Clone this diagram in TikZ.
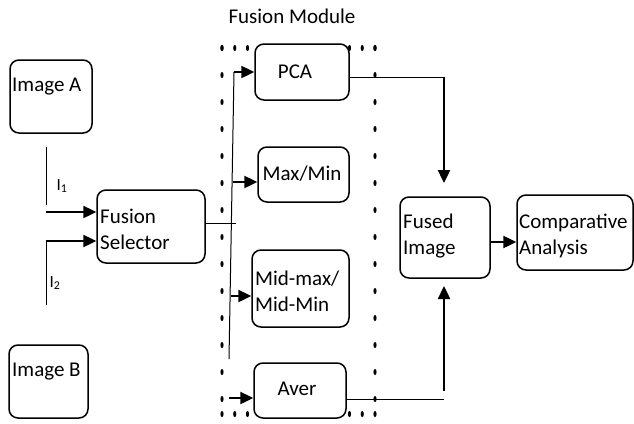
\documentclass[tikz,border=0pt]{standalone}
\usepackage{fontspec}
\setmainfont{Carlito}
\usetikzlibrary{arrows.meta}
\begin{document}
\begin{tikzpicture}[x=1pt,y=-1pt,
  box/.style={draw=black,line width=1.5pt,rounded corners=9pt,fill=white,inner sep=0pt},
  txt/.style={inner sep=0pt,font=\fontsize{21}{26}\selectfont},
  ltxt/.style={txt,anchor=west,align=left},
  thin/.style={draw=black,line width=1pt},
  arr/.style={draw=black,line width=2.4pt,-{Triangle[length=13pt,width=12pt]}},
  dotmark/.style={fill=black}]
\useasboundingbox (0,0) rectangle (634,423);
% title
\node[txt] (title) at (292,16) {Fusion Module};
% dotted border
\foreach \yy in {48,75,...,414} {
  \fill (222,\yy) ellipse [x radius=1.6, y radius=3.1];
  \fill (375,\yy) ellipse [x radius=1.6, y radius=3.1];
}
\foreach \xx in {222,234.75,...,376} {
  \fill (\xx,48) ellipse [x radius=1.6, y radius=3.1];
  \fill (\xx,414) ellipse [x radius=1.6, y radius=3.1];
}
% boxes
\node[box,minimum width=82pt,minimum height=73pt] (imA) at (51,96.5) {};
\node[ltxt] (imAt) at (12,87) {Image A};
\node[box,minimum width=79pt,minimum height=73pt] (imB) at (48.5,381.5) {};
\node[ltxt] (imBt) at (12,372) {Image B};
\node[box,minimum width=108pt,minimum height=73pt] (fs) at (151,226.5) {};
\node[ltxt] (fst) at (100,229) {Fusion\\Selector};
\node[box,minimum width=94pt,minimum height=56pt] (pca) at (302,72) {};
\node[txt] (pcat) at (295,72) {PCA};
\node[box,minimum width=91pt,minimum height=55pt] (mm) at (303.5,174.5) {};
\node[txt] (mmt) at (302,174) {Max/Min};
\node[box,minimum width=97pt,minimum height=77pt] (mid) at (300.5,288.5) {};
\node[ltxt] (midt) at (255,291) {Mid-max/\\Mid-Min};
\node[box,minimum width=92pt,minimum height=55pt] (aver) at (300,390.5) {};
\node[txt] (avert) at (297,389) {Aver};
\node[box,minimum width=90pt,minimum height=81pt] (fused) at (445,237.5) {};
\node[ltxt] (fusedt) at (403,236) {Fused\\Image};
\node[box,minimum width=116pt,minimum height=75pt] (comp) at (575,232.5) {};
\node[ltxt] (compt) at (519,236) {Comparative\\Analysis};
% inputs
\coordinate (i1a) at (46,147);
\coordinate (i1b) at (46,205);
\coordinate (i1s) at (46,212);
\coordinate (i2s) at (46,241);
\coordinate (i2b) at (46,305);
\draw[thin] (i1a) -- (i1b);
\draw[arr] (i1s) -- (i1s -| fs.west);
\draw[thin] (i2b) -- (i2s);
\draw[arr] (i2s) -- (i2s -| fs.west);
\node[txt,font=\fontsize{17}{20}\selectfont] (l1) at (62,186) {I\textsubscript{1}};
\node[txt,font=\fontsize{17}{20}\selectfont] (l2) at (55,283) {I\textsubscript{2}};
% distribution
\coordinate (fsout) at (236,223);
\draw[thin] (fs.east |- fsout) -- (fsout);
\coordinate (vt) at (234,72);
\coordinate (vb) at (229,359);
\draw[thin] (vt) -- (vb);
\draw[arr] (vt) -- (pca.west |- vt);
\coordinate (vm) at (233,182);
\draw[arr] (vm) -- (mm.west |- vm);
\coordinate (vd) at (231,296);
\draw[arr] (vd) -- (mid.west |- vd);
\coordinate (va) at (229,398);
\draw[arr] (va) -- (aver.west |- va);
% outputs
\coordinate (pc) at (444,77);
\draw[thin] (pca.east |- pc) -- (pc);
\draw[arr] (pc) -- (444,183);
\coordinate (ac) at (444,399);
\draw[thin] (aver.east |- ac) -- (ac);
\draw[arr] (444,391) -- (444,286);
\coordinate (fc) at (490,242);
\draw[arr] (fc) -- (comp.west |- fc);
\end{tikzpicture}
\end{document}
